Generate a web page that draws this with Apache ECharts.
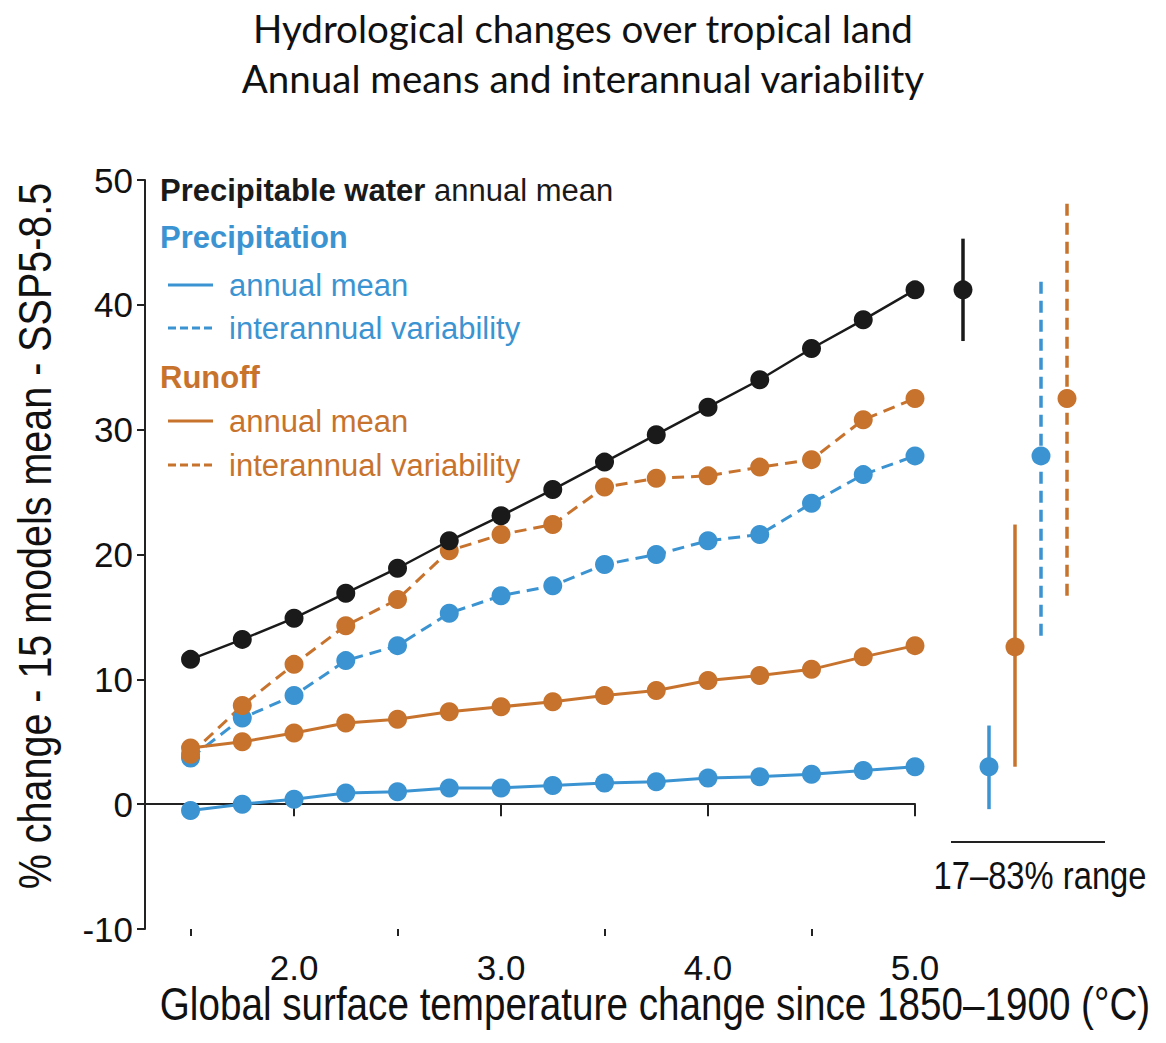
<!DOCTYPE html>
<html><head><meta charset="utf-8">
<script src="https://cdn.jsdelivr.net/npm/echarts@6/dist/echarts.min.js"></script>
<style>html,body{margin:0;padding:0;background:#fff}#c{width:1166px;height:1043px}</style>
</head><body><div id="c"></div>
<script>
// ---- data ----
const temps = [1.5, 1.75, 2.0, 2.25, 2.5, 2.75, 3.0, 3.25, 3.5, 3.75, 4.0, 4.25, 4.5, 4.75, 5.0];
const pwMean = [11.6, 13.2, 14.9, 16.9, 18.9, 21.1, 23.1, 25.2, 27.4, 29.6, 31.8, 34.0, 36.5, 38.8, 41.2];
const prMean = [-0.5, 0.0, 0.4, 0.9, 1.0, 1.3, 1.3, 1.5, 1.7, 1.8, 2.1, 2.2, 2.4, 2.7, 3.0];
const prVar = [3.7, 6.9, 8.7, 11.5, 12.7, 15.3, 16.7, 17.5, 19.2, 20.0, 21.1, 21.6, 24.1, 26.4, 27.9];
const roMean = [4.5, 5.0, 5.7, 6.5, 6.8, 7.4, 7.8, 8.2, 8.7, 9.1, 9.9, 10.3, 10.8, 11.8, 12.7];
const roVar = [4.0, 7.9, 11.2, 14.3, 16.4, 20.3, 21.6, 22.4, 25.4, 26.1, 26.3, 27.0, 27.6, 30.8, 32.5];
const rangeCats = ['Precipitable water', 'Precipitation annual mean', 'Runoff annual mean', 'Precipitation variability', 'Runoff variability'];
const rangeLow = [37.1, -0.4, 3.0, 13.5, 16.7];
const rangeMid = [41.2, 3.0, 12.6, 27.9, 32.5];
const rangeHigh = [45.3, 6.3, 22.4, 42.2, 48.2];
const xMajorTicks = [2.0, 3.0, 4.0, 5.0];
const xMinorTicks = [1.5, 2.5, 3.5, 4.5];

// ---- styles ----
const BLACK = '#1a1a1a', BLUE = '#3b94d1', ORANGE = '#c8732d';
const SANS = "'Liberation Sans', Arial, sans-serif";
const DASH = [12, 7];
const rangeColors = [BLACK, BLUE, ORANGE, BLUE, ORANGE];
const rangeDash = [null, null, null, [12, 7], [12, 7]];

function pairs(ys) { return temps.map((t, i) => [t, ys[i]]); }
function lineSeries(name, ys, color, dashed) {
  return {
    name, type: 'line', xAxisIndex: 0, yAxisIndex: 0, data: pairs(ys),
    symbol: 'circle', symbolSize: 19, showSymbol: true,
    lineStyle: { color, width: color === BLACK ? 2.5 : 3, type: dashed ? DASH : 'solid' },
    itemStyle: { color }, animation: false, z: 3
  };
}

const chart = echarts.init(document.getElementById('c'), null, { renderer: 'svg' });
const legendY = [190, 237, 285, 328, 377, 421, 465];
const LF = 31;
function legText(x, y, text, color, bold) {
  return { type: 'text', x, y,
    style: { text, fill: color, font: (bold ? 'bold ' : '') + LF + 'px ' + SANS, textVerticalAlign: 'middle' } };
}
function legLine(y, color, dash) {
  return { type: 'line', shape: { x1: 168, y1: y, x2: 213, y2: y },
    style: { stroke: color, lineWidth: 3, lineDash: dash || null } };
}
chart.setOption({
  backgroundColor: '#fff',
  animation: false,
  title: {
    text: 'Hydrological changes over tropical land\nAnnual means and interannual variability',
    left: 'center', top: -2,
    textStyle: { fontFamily: 'Lato', fontWeight: 'normal', fontSize: 38.5, lineHeight: 50, color: '#111' }
  },
  grid: [
    { left: 145, right: 251, top: 180, bottom: 114 },
    { left: 950, right: 86, top: 180, bottom: 114 }
  ],
  xAxis: [
    { type: 'value', gridIndex: 0, min: 1.28, max: 5.0, position: 'bottom',
      axisLine: { lineStyle: { color: '#222', width: 2 } },
      axisTick: { customValues: xMajorTicks, length: 12, lineStyle: { color: '#222', width: 2 } },
      axisLabel: { customValues: xMajorTicks, margin: 21, formatter: v => v.toFixed(1),
        fontFamily: SANS, fontSize: 35, color: '#111' },
      splitLine: { show: false } },
    { type: 'value', gridIndex: 0, min: 1.28, max: 5.0, position: 'bottom',
      axisLine: { show: false },
      axisTick: { customValues: xMinorTicks, length: 7, lineStyle: { color: '#222', width: 2 } },
      axisLabel: { show: false }, splitLine: { show: false } },
    { type: 'category', gridIndex: 1, data: rangeCats, show: false }
  ],
  yAxis: [
    { type: 'value', gridIndex: 0, min: -10, max: 50, interval: 10,
      axisLine: { show: true, lineStyle: { color: '#222', width: 2 } },
      axisTick: { show: true, length: 8, lineStyle: { color: '#222', width: 2 } },
      axisLabel: { margin: 12, fontFamily: SANS, fontSize: 35, color: '#111' },
      splitLine: { show: false } },
    { type: 'value', gridIndex: 1, min: -10, max: 50, show: false }
  ],
  series: [
    lineSeries('Precipitation interannual variability', prVar, BLUE, true),
    lineSeries('Runoff interannual variability', roVar, ORANGE, true),
    lineSeries('Precipitation annual mean', prMean, BLUE, false),
    lineSeries('Runoff annual mean', roMean, ORANGE, false),
    lineSeries('Precipitable water annual mean', pwMean, BLACK, false),
    { type: 'custom', name: '17–83% range', xAxisIndex: 2, yAxisIndex: 1,
      data: rangeCats.map((c, i) => [i, rangeLow[i], rangeMid[i], rangeHigh[i]]),
      encode: { x: 0, y: [1, 2, 3] },
      renderItem: function (params, api) {
        const i = params.dataIndex;
        const lo = api.coord([api.value(0), api.value(1)]);
        const mid = api.coord([api.value(0), api.value(2)]);
        const hi = api.coord([api.value(0), api.value(3)]);
        const c = rangeColors[i];
        return { type: 'group', children: [
          { type: 'line', shape: { x1: lo[0], y1: lo[1], x2: hi[0], y2: hi[1] },
            style: { stroke: c, lineWidth: 3.5, lineDash: rangeDash[i] || null } },
          { type: 'circle', shape: { cx: mid[0], cy: mid[1], r: 9.5 }, style: { fill: c } }
        ] };
      }, clip: false, z: 3 }
  ],
  graphic: [
    { type: 'text', x: 160, y: legendY[0],
      style: { text: '{b|Precipitable water} annual mean', fill: BLACK, font: LF + 'px ' + SANS, textVerticalAlign: 'middle',
        rich: { b: { fontWeight: 'bold', fontFamily: SANS, fontSize: LF, fill: BLACK } } } },
    legText(160, legendY[1], 'Precipitation', BLUE, true),
    legLine(legendY[2], BLUE),
    legText(229, legendY[2], 'annual mean', BLUE, false),
    legLine(legendY[3], BLUE, [8, 4]),
    legText(229, legendY[3], 'interannual variability', BLUE, false),
    legText(160, legendY[4], 'Runoff', ORANGE, true),
    legLine(legendY[5], ORANGE),
    legText(229, legendY[5], 'annual mean', ORANGE, false),
    legLine(legendY[6], ORANGE, [8, 4]),
    legText(229, legendY[6], 'interannual variability', ORANGE, false),
    // range annotation
    { type: 'line', shape: { x1: 951, y1: 842, x2: 1105, y2: 842 }, style: { stroke: '#222', lineWidth: 2 } },
    { type: 'text', x: 1040, y: 875, scaleX: 0.84,
      style: { text: '17–83% range', fill: '#111', font: '39px ' + SANS, textAlign: 'center', textVerticalAlign: 'middle' } },
    // axis titles
    { type: 'text', x: 655, y: 1004, scaleX: 0.84,
      style: { text: 'Global surface temperature change since 1850–1900 (°C)', fill: '#111', font: '46px ' + SANS,
        textAlign: 'center', textVerticalAlign: 'middle' } },
    { type: 'text', x: 35, y: 536, rotation: Math.PI / 2, scaleX: 0.84,
      style: { text: '% change - 15 models mean - SSP5-8.5', fill: '#111', font: '47px ' + SANS,
        textAlign: 'center', textVerticalAlign: 'middle' } }
  ]
});
</script>
</body></html>
